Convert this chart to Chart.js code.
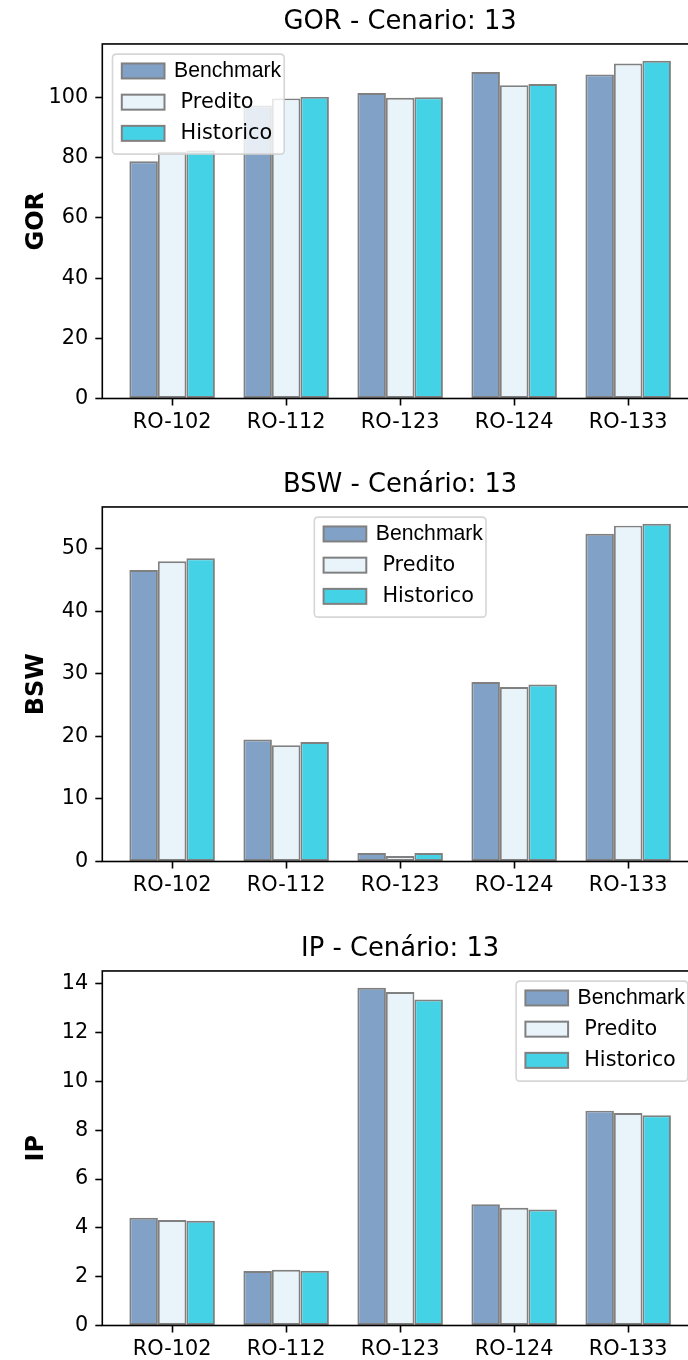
<!DOCTYPE html>
<html>
<head>
<meta charset="utf-8">
<script src="https://cdn.jsdelivr.net/npm/chart.js@4.4.1/dist/chart.umd.min.js"></script>
<style>
  html, body { margin: 0; padding: 0; background: #ffffff; overflow: hidden; }
  #page { position: relative; width: 688px; height: 1360px; overflow: hidden; background: #ffffff; }
  #page canvas { position: absolute; left: 0; }
</style>
</head>
<body>
<div id="page">
  <canvas id="chartGor" width="700" height="464" style="top:0px"></canvas>
  <canvas id="chartBsw" width="700" height="464" style="top:463px"></canvas>
  <canvas id="chartIp"  width="700" height="464" style="top:927px"></canvas>
</div>
<script>
// ---- data ----
const wells = ['RO-102', 'RO-112', 'RO-123', 'RO-124', 'RO-133'];
const seriesNames = ['Benchmark', ' Predito', ' Historico'];

const gorBenchmark = [78.8, 97.4, 101.5, 108.5, 107.7];
const gorPredito   = [82.0, 99.7, 99.9, 104.1, 111.3];
const gorHistorico = [82.4, 100.2, 100.1, 104.5, 112.2];
const gorTicks = [0, 20, 40, 60, 80, 100];

const bswBenchmark = [46.6, 19.5, 1.36, 28.7, 52.4];
const bswPredito   = [48.0, 18.6, 0.88, 27.9, 53.7];
const bswHistorico = [48.5, 19.1, 1.36, 28.3, 54.0];
const bswTicks = [0, 10, 20, 30, 40, 50];

const ipBenchmark = [4.41, 2.23, 13.83, 4.97, 8.80];
const ipPredito   = [4.32, 2.28, 13.66, 4.82, 8.70];
const ipHistorico = [4.29, 2.24, 13.35, 4.75, 8.61];
const ipTicks = [0, 2, 4, 6, 8, 10, 12, 14];

// ---- styling ----
const FONT = 'DejaVu Sans';
const TICK_SIZE = 20.8;
const fills = ['rgb(129,162,198)', 'rgb(232,244,250)', 'rgb(67,210,230)'];
const edgeColor = 'rgb(128,128,128)';
const legendFonts = ['Liberation Sans', FONT, FONT];

// plot-area geometry inside each canvas
const CANVAS_H = 464;
const AXES_LEFT = 102.3;
const AXES_BOTTOM = 398.5;

// bars are 0.25 wide, three per group; x limits get a 5% margin
const BAR_W = 0.25;
const halfGroup = 1.5 * BAR_W;
const xPad = 0.05 * ((wells.length - 1) + 2 * halfGroup);
const xMin = -halfGroup - xPad;
const xMax = (wells.length - 1) + halfGroup + xPad;

// frame around the plot area plus a matplotlib-style legend box
const framePlugin = {
  id: 'boxLegend',
  afterDatasetsDraw(chart, args, opts) {
    const ctx = chart.ctx;
    const ca = chart.chartArea;
    ctx.save();
    ctx.strokeStyle = '#000';
    ctx.lineWidth = 1.6;
    ctx.strokeRect(ca.left, ca.top, ca.right - ca.left, ca.bottom - ca.top);

    const W = 171.7, H = 100, pad = 10.2, r = 4;
    let L;
    if (opts.loc === 'upper left') L = ca.left + pad;
    else if (opts.loc === 'upper right') L = ca.right - pad - W;
    else L = (ca.left + ca.right) / 2 - W / 2;
    const T = ca.top + pad;

    ctx.beginPath();
    ctx.moveTo(L + r, T);
    ctx.lineTo(L + W - r, T);
    ctx.quadraticCurveTo(L + W, T, L + W, T + r);
    ctx.lineTo(L + W, T + H - r);
    ctx.quadraticCurveTo(L + W, T + H, L + W - r, T + H);
    ctx.lineTo(L + r, T + H);
    ctx.quadraticCurveTo(L, T + H, L, T + H - r);
    ctx.lineTo(L, T + r);
    ctx.quadraticCurveTo(L, T, L + r, T);
    ctx.closePath();
    ctx.fillStyle = 'rgba(255,255,255,0.8)';
    ctx.fill();
    ctx.strokeStyle = 'rgba(204,204,204,0.8)';
    ctx.lineWidth = 1.6;
    ctx.stroke();

    chart.data.datasets.forEach((ds, k) => {
      const cy = T + 16.8 + k * 31.2;
      ctx.fillStyle = ds.backgroundColor;
      ctx.fillRect(L + 9.3, cy - 7.5, 42.7, 15);
      ctx.strokeStyle = ds.borderColor;
      ctx.lineWidth = 2;
      ctx.strokeRect(L + 9.3, cy - 7.5, 42.7, 15);
      ctx.fillStyle = '#000';
      ctx.font = (k === 0 ? 21.2 : TICK_SIZE) + 'px "' + legendFonts[k] + '"';
      ctx.textAlign = 'left';
      ctx.textBaseline = 'middle';
      ctx.fillText(ds.label, L + 61.5, cy);
    });
    ctx.restore();
  }
};

function makeChart(canvasId, titleText, yLabel, series, yTicks, legendLoc) {
  const yMax = 1.05 * Math.max(...series.flat());
  return new Chart(document.getElementById(canvasId), {
    type: 'bar',
    data: {
      datasets: series.map((vals, k) => ({
        label: seriesNames[k],
        data: vals.map((v, i) => ({ x: i, y: v })),
        backgroundColor: fills[k],
        borderColor: edgeColor,
        borderWidth: 1.9,
        borderSkipped: false,
        categoryPercentage: 3 * BAR_W,
        barPercentage: 1.0
      }))
    },
    options: {
      responsive: false,
      animation: false,
      devicePixelRatio: 1,
      events: [],
      layout: { padding: { top: 0, left: 0, right: 2, bottom: 0 } },
      scales: {
        x: {
          type: 'linear',
          min: xMin,
          max: xMax,
          offset: false,
          afterFit(s) { s.height = CANVAS_H - AXES_BOTTOM; },
          afterBuildTicks(s) { s.ticks = wells.map((w, i) => ({ value: i })); },
          ticks: {
            callback: (v) => wells[v],
            font: { family: FONT, size: TICK_SIZE },
            color: '#000',
            padding: 5,
            maxRotation: 0,
            autoSkip: false
          },
          grid: {
            display: true, drawOnChartArea: false, drawTicks: true,
            tickLength: 7, tickWidth: 1.6, tickColor: '#000', offset: false
          },
          border: { display: false }
        },
        y: {
          min: 0,
          max: yMax,
          afterFit(s) { s.width = AXES_LEFT; },
          afterBuildTicks(s) { s.ticks = yTicks.map(v => ({ value: v })); },
          ticks: {
            font: { family: FONT, size: TICK_SIZE },
            color: '#000',
            padding: 7
          },
          grid: {
            display: true, drawOnChartArea: false, drawTicks: true,
            tickLength: 7, tickWidth: 1.6, tickColor: '#000'
          },
          border: { display: false },
          title: {
            display: true,
            text: yLabel,
            font: { family: FONT, size: 24, weight: 'bold' },
            color: '#000',
            padding: { top: 22, bottom: 0 }
          }
        }
      },
      plugins: {
        legend: { display: false },
        tooltip: { enabled: false },
        title: {
          display: true,
          text: titleText,
          fullSize: false,
          font: { family: FONT, size: 25.8, weight: 'normal' },
          color: '#000',
          padding: { top: 6.9, bottom: 6.1 }
        },
        boxLegend: { loc: legendLoc }
      }
    },
    plugins: [framePlugin]
  });
}

makeChart('chartGor', 'GOR - Cenario: 13', 'GOR', [gorBenchmark, gorPredito, gorHistorico], gorTicks, 'upper left');
makeChart('chartBsw', 'BSW - Cenário: 13', 'BSW', [bswBenchmark, bswPredito, bswHistorico], bswTicks, 'upper center');
makeChart('chartIp', 'IP - Cenário: 13', 'IP', [ipBenchmark, ipPredito, ipHistorico], ipTicks, 'upper right');
</script>
</body>
</html>
